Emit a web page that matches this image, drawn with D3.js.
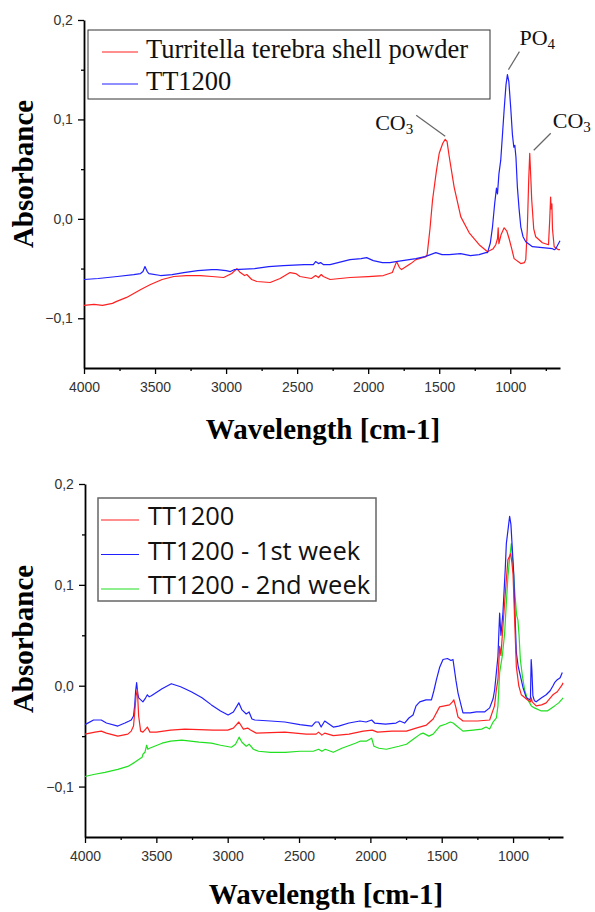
<!DOCTYPE html>
<html>
<head>
<meta charset="utf-8">
<script src="https://cdn.jsdelivr.net/npm/d3@7"></script>
<style>
  body { margin: 0; background: #fff; }
  svg { display: block; }
</style>
</head>
<body>
<svg id="chart" width="595" height="912"></svg>
<script>
// ---- data: [wavenumber cm-1, absorbance] ----
const shellPowder = [
  [4000,-0.087],[3930,-0.086],[3870,-0.087],[3800,-0.085],[3770,-0.083],[3700,-0.079],[3650,-0.075],
  [3600,-0.071],[3532,-0.066],[3450,-0.061],[3368,-0.058],[3280,-0.057],[3181,-0.057],[3100,-0.058],
  [3017,-0.059],[2960,-0.055],[2924,-0.050],[2900,-0.054],[2870,-0.057],[2854,-0.056],[2820,-0.061],
  [2784,-0.063],[2690,-0.064],[2620,-0.060],[2550,-0.054],[2510,-0.055],[2480,-0.058],[2400,-0.060],
  [2370,-0.057],[2350,-0.059],[2330,-0.056],[2316,-0.058],[2268,-0.061],[2128,-0.059],[2000,-0.058],
  [1893,-0.057],[1830,-0.054],[1800,-0.043],[1780,-0.049],[1765,-0.051],[1700,-0.045],[1664,-0.041],
  [1594,-0.038],[1585,-0.036],[1565,-0.010],[1547,0.019],[1520,0.048],[1500,0.066],[1475,0.076],
  [1458,0.080],[1445,0.078],[1430,0.063],[1395,0.032],[1348,0.002],[1289,-0.014],[1219,-0.026],
  [1160,-0.033],[1120,-0.030],[1102,-0.026],[1090,-0.020],[1085,-0.009],[1080,-0.025],[1065,-0.016],
  [1043,-0.009],[1025,-0.012],[1008,-0.020],[990,-0.030],[973,-0.040],[926,-0.045],[900,-0.044],
  [891,-0.041],[880,-0.010],[870,0.040],[863,0.066],[855,0.040],[849,0.019],[835,-0.010],[821,-0.018],
  [774,-0.024],[731,-0.026],[722,0.000],[716,0.022],[712,0.010],[707,0.015],[703,-0.010],[691,-0.028],
  [661,-0.031],[650,-0.031]
];
const tt1200Top = [
  [4000,-0.061],[3900,-0.060],[3766,-0.058],[3650,-0.056],[3602,-0.055],[3585,-0.053],[3571,-0.048],
  [3555,-0.053],[3543,-0.055],[3461,-0.057],[3380,-0.056],[3298,-0.054],[3200,-0.052],[3100,-0.051],
  [3064,-0.051],[3000,-0.052],[2970,-0.053],[2940,-0.051],[2800,-0.050],[2700,-0.048],[2597,-0.047],
  [2450,-0.046],[2386,-0.046],[2370,-0.043],[2350,-0.045],[2335,-0.044],[2316,-0.046],[2268,-0.046],
  [2128,-0.041],[2050,-0.040],[2011,-0.039],[1964,-0.042],[1900,-0.044],[1847,-0.044],[1805,-0.043],
  [1758,-0.042],[1664,-0.040],[1600,-0.038],[1524,-0.034],[1480,-0.036],[1430,-0.036],[1350,-0.035],
  [1280,-0.037],[1219,-0.036],[1172,-0.034],[1160,-0.034],[1140,-0.024],[1125,-0.008],[1110,0.015],
  [1097,0.031],[1090,0.025],[1080,0.045],[1067,0.059],[1043,0.110],[1030,0.135],[1020,0.145],
  [1010,0.138],[996,0.110],[985,0.085],[975,0.072],[968,0.074],[960,0.062],[950,0.032],[938,0.010],
  [926,-0.008],[910,-0.018],[891,-0.023],[844,-0.028],[774,-0.029],[703,-0.030],[690,-0.031],
  [680,-0.030],[665,-0.026],[650,-0.022]
];
const tt1200 = [
  [4000,-0.048],[3930,-0.046],[3886,-0.045],[3850,-0.047],[3770,-0.050],[3700,-0.048],[3676,-0.045],
  [3660,-0.040],[3652,-0.027],[3642,-0.010],[3633,-0.004],[3624,-0.030],[3610,-0.045],[3594,-0.046],
  [3575,-0.043],[3563,-0.041],[3545,-0.046],[3500,-0.046],[3400,-0.044],[3300,-0.043],[3100,-0.044],
  [3000,-0.044],[2960,-0.042],[2922,-0.036],[2890,-0.043],[2860,-0.042],[2840,-0.044],[2800,-0.047],
  [2600,-0.046],[2450,-0.048],[2380,-0.048],[2363,-0.046],[2340,-0.049],[2320,-0.047],[2260,-0.0495],
  [2150,-0.048],[2050,-0.045],[1987,-0.044],[1950,-0.046],[1850,-0.045],[1747,-0.045],[1680,-0.042],
  [1607,-0.039],[1560,-0.033],[1515,-0.021],[1445,-0.019],[1425,-0.016],[1415,-0.014],[1400,-0.022],
  [1386,-0.031],[1351,-0.035],[1250,-0.035],[1164,-0.034],[1130,-0.020],[1117,-0.004],[1106,0.006],
  [1094,0.039],[1085,0.030],[1071,0.059],[1050,0.100],[1036,0.125],[1025,0.128],[1017,0.131],
  [1008,0.122],[1000,0.110],[990,0.070],[977,0.019],[960,0.000],[942,-0.009],[900,-0.014],
  [878,-0.016],[872,-0.012],[866,-0.016],[838,-0.020],[800,-0.019],[768,-0.017],[721,-0.009],
  [690,-0.006],[655,0.001],[650,0.003]
];
const week1 = [
  [4000,-0.0386],[3940,-0.034],[3886,-0.034],[3850,-0.037],[3770,-0.040],[3720,-0.037],[3690,-0.035],
  [3676,-0.034],[3660,-0.030],[3652,-0.020],[3645,-0.005],[3638,0.003],[3630,-0.008],[3624,-0.012],
  [3594,-0.016],[3575,-0.012],[3563,-0.009],[3550,-0.011],[3535,-0.010],[3460,-0.003],[3395,0.002],
  [3330,-0.001],[3255,-0.006],[3180,-0.012],[3114,-0.019],[3050,-0.025],[2997,-0.029],[2960,-0.026],
  [2922,-0.017],[2900,-0.024],[2870,-0.028],[2850,-0.026],[2830,-0.033],[2810,-0.034],[2700,-0.035],
  [2600,-0.036],[2494,-0.0386],[2410,-0.040],[2385,-0.036],[2363,-0.036],[2345,-0.041],[2320,-0.035],
  [2300,-0.037],[2260,-0.041],[2222,-0.040],[2150,-0.037],[2073,-0.035],[2030,-0.036],[1991,-0.034],
  [1970,-0.037],[1894,-0.038],[1820,-0.037],[1794,-0.035],[1760,-0.037],[1730,-0.032],[1701,-0.029],
  [1680,-0.020],[1654,-0.016],[1610,-0.014],[1572,-0.014],[1555,-0.005],[1537,0.006],[1515,0.018],
  [1491,0.026],[1460,0.027],[1435,0.025],[1421,0.026],[1400,0.005],[1386,-0.007],[1351,-0.027],
  [1300,-0.027],[1257,-0.026],[1200,-0.026],[1164,-0.022],[1140,-0.013],[1129,-0.004],[1106,0.029],
  [1094,0.072],[1085,0.050],[1071,0.072],[1055,0.115],[1047,0.141],[1035,0.155],[1024,0.168],
  [1015,0.160],[1005,0.135],[995,0.110],[989,0.082],[977,0.033],[965,0.020],[954,0.013],[930,-0.002],
  [907,-0.012],[882,-0.014],[878,-0.012],[873,0.026],[868,0.015],[861,-0.010],[850,-0.015],
  [838,-0.016],[800,-0.012],[768,-0.009],[740,-0.005],[720,0.000],[709,0.003],[690,0.006],
  [670,0.008],[655,0.013]
];
const week2 = [
  [4000,-0.090],[3940,-0.088],[3860,-0.086],[3770,-0.083],[3700,-0.080],[3652,-0.076],[3600,-0.071],
  [3594,-0.068],[3580,-0.066],[3568,-0.059],[3560,-0.063],[3548,-0.062],[3530,-0.061],[3460,-0.057],
  [3400,-0.055],[3321,-0.054],[3200,-0.056],[3114,-0.057],[3050,-0.059],[2974,-0.061],[2945,-0.058],
  [2920,-0.051],[2900,-0.056],[2870,-0.060],[2850,-0.058],[2820,-0.063],[2784,-0.065],[2700,-0.066],
  [2597,-0.066],[2494,-0.065],[2400,-0.065],[2363,-0.063],[2340,-0.065],[2316,-0.063],[2260,-0.066],
  [2200,-0.062],[2105,-0.057],[2073,-0.055],[2030,-0.055],[1991,-0.052],[1975,-0.060],[1940,-0.062],
  [1888,-0.063],[1800,-0.060],[1747,-0.058],[1700,-0.053],[1650,-0.048],[1630,-0.047],[1590,-0.050],
  [1560,-0.048],[1513,-0.040],[1470,-0.038],[1440,-0.036],[1420,-0.037],[1395,-0.040],[1351,-0.045],
  [1280,-0.044],[1220,-0.043],[1190,-0.041],[1164,-0.043],[1140,-0.036],[1117,-0.032],[1106,-0.020],
  [1094,0.013],[1075,0.030],[1059,0.052],[1048,0.080],[1036,0.108],[1025,0.125],[1012,0.141],
  [1000,0.120],[989,0.095],[975,0.070],[966,0.065],[958,0.050],[949,0.026],[935,0.010],[919,-0.004],
  [900,-0.013],[880,-0.018],[872,-0.020],[850,-0.022],[802,-0.025],[760,-0.025],[709,-0.020],
  [680,-0.017],[655,-0.013],[650,-0.012]
];

const xDomain = [4000, 650];
const yDomain = [-0.15, 0.2];
const xMajorTicks = [4000, 3500, 3000, 2500, 2000, 1500, 1000];
const xMinorTicks = [3750, 3250, 2750, 2250, 1750, 1250, 750];
const yMajorTicks = [0.2, 0.1, 0.0, -0.1];
const yMinorTicks = [0.15, 0.05, -0.05];

const topSeries = [
  { name: "Turritella terebra shell powder", color: "#ff2020", data: shellPowder },
  { name: "TT1200", color: "#2020ff", data: tt1200Top }
];
const bottomSeries = [
  { name: "TT1200", color: "#ff2020", data: tt1200 },
  { name: "TT1200 - 1st week", color: "#2020ff", data: week1 },
  { name: "TT1200 - 2nd week", color: "#20e020", data: week2 }
];
const topPeaks = [
  { label: "PO", sub: "4", wn: 1020, abs: 0.145, side: "up" },
  { label: "CO", sub: "3", wn: 1458, abs: 0.080, side: "left" },
  { label: "CO", sub: "3", wn: 863, abs: 0.066, side: "right" }
];

const svg = d3.select("#chart");
const fmt = d => d3.format(".1f")(d).replace(".", ",");

function drawPanel(opt) {
  const x = d3.scaleLinear().domain(xDomain).range([opt.left, opt.right]);
  const y = d3.scaleLinear().domain(yDomain).range([opt.bottom, opt.top]);
  const g = svg.append("g");

  // axes
  const xAxis = g.append("g").attr("transform", `translate(0,${opt.bottom})`)
    .call(d3.axisBottom(x).tickValues(xMajorTicks).tickSize(6).tickSizeOuter(0).tickFormat(d3.format("d")));
  g.append("g").attr("transform", `translate(0,${opt.bottom})`)
    .call(d3.axisBottom(x).tickValues(xMinorTicks).tickSize(3).tickFormat(""))
    .call(a => a.select(".domain").remove());
  const yAxis = g.append("g").attr("transform", `translate(${opt.left},0)`)
    .call(d3.axisLeft(y).tickValues(yMajorTicks).tickSize(6).tickSizeOuter(0).tickFormat(fmt));
  g.append("g").attr("transform", `translate(${opt.left},0)`)
    .call(d3.axisLeft(y).tickValues(yMinorTicks).tickSize(3).tickFormat(""))
    .call(a => a.select(".domain").remove());

  g.selectAll(".domain").attr("stroke", "#000").attr("stroke-width", 1.8);
  g.selectAll(".tick line").attr("stroke", "#000").attr("stroke-width", 1.3);
  g.selectAll(".tick text")
    .attr("font-family", "Liberation Sans, Arial, sans-serif")
    .attr("font-size", "14px").attr("fill", "#333");
  xAxis.selectAll(".tick text").attr("dy", "1.05em");
  yAxis.selectAll(".tick text").attr("dx", "-0.15em");

  // curves
  const line = d3.line().x(d => x(d[0])).y(d => y(d[1]));
  opt.drawOrder.forEach(i => {
    const s = opt.series[i];
    g.append("path").datum(s.data)
      .attr("fill", "none").attr("stroke", s.color)
      .attr("stroke-width", 1.2).attr("stroke-linejoin", "round")
      .attr("d", line);
  });

  // axis titles
  g.append("text")
    .attr("transform", `translate(33,${opt.yTitleY}) rotate(-90)`)
    .attr("text-anchor", "middle")
    .attr("font-family", "Liberation Serif, Times New Roman, serif")
    .attr("font-weight", "bold").attr("font-size", "29px")
    .text("Absorbance");
  g.append("text")
    .attr("x", opt.xTitleX).attr("y", opt.xTitleY)
    .attr("text-anchor", "middle")
    .attr("font-family", "Liberation Serif, Times New Roman, serif")
    .attr("font-weight", "bold").attr("font-size", "29px")
    .text("Wavelength [cm-1]");

  // legend
  const lg = opt.legend;
  g.append("rect")
    .attr("x", lg.x).attr("y", lg.y).attr("width", lg.w).attr("height", lg.h)
    .attr("fill", "#fff").attr("stroke", lg.border).attr("stroke-width", lg.borderWidth);
  opt.series.forEach((s, i) => {
    const ly = lg.y + lg.first + i * lg.step;
    g.append("line")
      .attr("x1", lg.x + lg.lineX1).attr("x2", lg.x + lg.lineX2)
      .attr("y1", ly).attr("y2", ly)
      .attr("stroke", s.color).attr("stroke-width", 1.2);
    g.append("text")
      .attr("x", lg.x + lg.textX).attr("y", ly).attr("dy", lg.dy)
      .attr("font-family", lg.font).attr("font-size", lg.size)
      .attr("fill", "#111")
      .text(s.name);
  });

  return { x, y, g };
}

const upperPanel = drawPanel({
  left: 84, right: 560, top: 20, bottom: 368,
  series: topSeries, drawOrder: [0, 1],
  yTitleY: 174, xTitleX: 323, xTitleY: 439,
  legend: { x: 88, y: 30, w: 402, h: 69, first: 22, step: 32,
            lineX1: 14, lineX2: 50, textX: 58, dy: "0.21em",
            font: "Liberation Serif, Times New Roman, serif", size: "26.5px",
            border: "#333", borderWidth: 1 }
});

drawPanel({
  left: 85, right: 563, top: 484, bottom: 837,
  series: bottomSeries, drawOrder: [2, 1, 0],
  yTitleY: 639, xTitleX: 326, xTitleY: 904,
  legend: { x: 98, y: 498, w: 278, h: 103, first: 22, step: 34.5,
            lineX1: 3, lineX2: 41, textX: 50, dy: "0.2em",
            font: "Open Sans, Noto Sans, sans-serif", size: "25.5px",
            border: "#666", borderWidth: 1.5 }
});

// peak annotations on the upper panel
const offsets = {
  up:    { l: [1, -5, 12, -23], t: [12, -30, "start"] },
  left:  { l: [0, -3, -29, -24], t: [-32, -9, "end"] },
  right: { l: [4, -3, 21, -20], t: [23, -25, "start"] }
};
topPeaks.forEach(p => {
  const px = upperPanel.x(p.wn), py = upperPanel.y(p.abs), o = offsets[p.side];
  upperPanel.g.append("line")
    .attr("x1", px + o.l[0]).attr("y1", py + o.l[1])
    .attr("x2", px + o.l[2]).attr("y2", py + o.l[3])
    .attr("stroke", "#666").attr("stroke-width", 1.2);
  const t = upperPanel.g.append("text")
    .attr("x", px + o.t[0]).attr("y", py + o.t[1])
    .attr("text-anchor", o.t[2])
    .attr("font-family", "Liberation Serif, Times New Roman, serif")
    .attr("font-size", "22px").attr("fill", "#111");
  t.append("tspan").text(p.label);
  t.append("tspan").attr("font-size", "15px").attr("dy", "4").text(p.sub);
});
</script>
</body>
</html>
